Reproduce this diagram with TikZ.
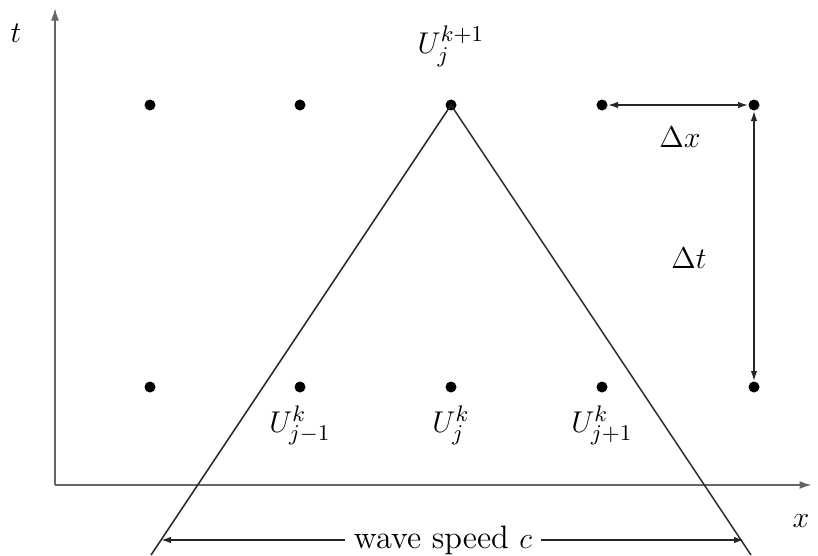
\documentclass[tikz,border=0pt]{standalone}
\usetikzlibrary{arrows.meta}
\begin{document}
\begin{tikzpicture}[x=0.4pt,y=-0.4pt,
  every node/.style={font=\fontsize{13}{15}\selectfont},
  axis/.style={draw=black!60,line width=0.8pt,-{Latex[length=5pt,width=3.2pt]}},
  cone/.style={draw=black!85,line width=0.6pt},
  dim/.style={draw=black!85,line width=0.6pt,{Latex[length=4pt,width=2.6pt]}-{Latex[length=4pt,width=2.6pt]}},
  pt/.style={circle,fill=black,inner sep=0pt,minimum size=4.4pt}]
\useasboundingbox (0,0) rectangle (818,555);
\begin{scope}
\clip (0,0) rectangle (818,555);
% axes
\coordinate (O) at (55,485);
\coordinate (xe) at (812,485);
\coordinate (te) at (55,8);
\draw[axis] (O) -- (xe);
\draw[axis] (O) -- (te);
\node (tl) at (16,33) {$t$};
\node (xl) at (801,521) {$x$};
% dots
\foreach \i/\x in {0/150,1/300,2/451,3/602,4/754}{
  \node[pt] (a\i) at (\x,105) {};
  \node[pt] (b\i) at (\x,387) {};
}
% cone
\coordinate (cl) at (151,555);
\coordinate (cr) at (751,555);
\draw[cone] (cl) -- (a2.center) -- (cr);
% labels
\node (ul) at (451,46) {$U_j^{k+1}$};
\node (l1) at (300,425) {$U_{j-1}^k$};
\node (l2) at (451,425) {$U_j^k$};
\node (l3) at (602,425) {$U_{j+1}^k$};
% dimension arrows
\draw[dim] (a3) -- (a4);
\node (dx) at (680,137) {$\Delta x$};
\draw[dim] (a4) -- (b4);
\node (dt) at (689,258) {$\Delta t$};
% wave speed
\node (ws) at (443,540) {wave speed $c$};
\coordinate (wl) at (161,540);
\coordinate (wr) at (744,540);
\draw[cone,-{Latex[length=4pt,width=2.6pt]}] (ws.west) -- (wl);
\draw[cone,-{Latex[length=4pt,width=2.6pt]}] (ws.east) -- (wr);
\end{scope}
\end{tikzpicture}
\end{document}
